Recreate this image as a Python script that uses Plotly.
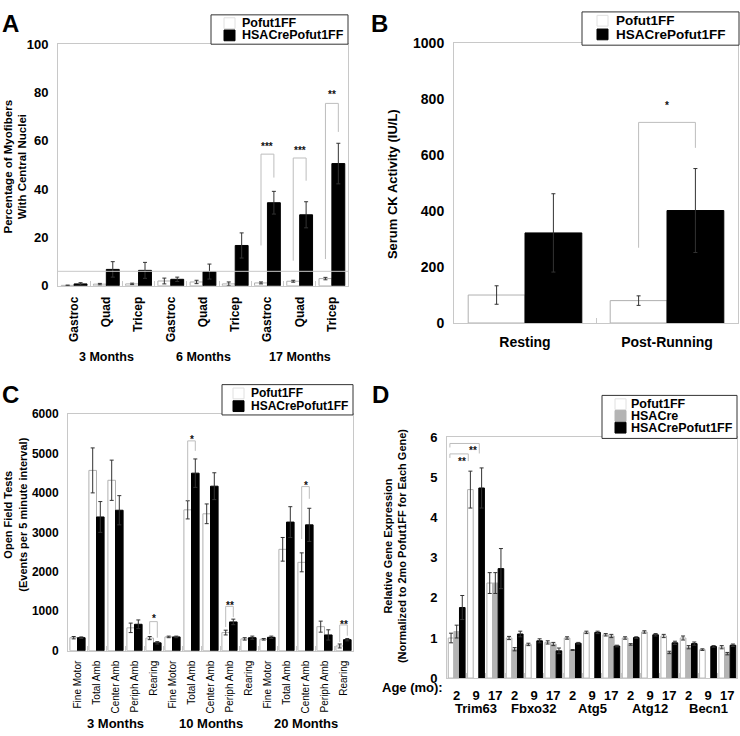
import plotly.graph_objects as go

# ---- panel A: central nuclei ----
a_muscles = ["Gastroc", "Quad", "Tricep", "Gastroc", "Quad", "Tricep", "Gastroc", "Quad", "Tricep"]
a_months = ["3 Months", "6 Months", "17 Months"]
a_ctrl = [0.2, 0.7, 0.8, 2.0, 1.6, 0.8, 1.2, 1.9, 3.0]
a_ctrl_err = [0.1, 0.3, 0.3, 1.2, 0.7, 0.8, 0.4, 0.4, 0.5]
a_ko = [0.8, 6.8, 6.4, 2.7, 5.9, 16.7, 34.4, 29.4, 50.6]
a_ko_err = [0.5, 3.2, 3.3, 0.9, 3.1, 5.2, 4.7, 5.4, 8.4]
a_ref_line = 6
# (category, left bottom, right bottom, top, star y, label)
a_sig = [(6, 16.7, 44.8, 54.5, 57.5, "***"), (7, 10.4, 43.5, 52.9, 56, "***"), (8, 11.1, 63.7, 75.5, 79, "**")]

# ---- panel B: serum CK ----
b_conditions = ["Resting", "Post-Running"]
b_ctrl = [100, 80]
b_ctrl_err = [33, 17]
b_ko = [322, 402]
b_ko_err = [140, 150]
b_sig = [(1, 269, 626, 717, 777, "*")]

# ---- panel C: open field ----
c_tests = ["Fine Motor", "Total Amb", "Center Amb", "Periph Amb", "Rearing"] * 3
c_months = ["3 Months", "10 Months", "20 Months"]
c_ctrl = [330, 4570, 4320, 580, 320, 350, 3570, 3470, 460, 300, 290, 2570, 2240, 610, 120]
c_ctrl_err = [30, 570, 510, 120, 40, 20, 230, 250, 60, 30, 20, 300, 240, 140, 50]
c_ko = [330, 3390, 3560, 670, 200, 350, 4500, 4170, 730, 330, 340, 3260, 3190, 400, 280]
c_ko_err = [20, 390, 370, 110, 30, 20, 360, 340, 70, 40, 30, 390, 420, 130, 30]
c_sig = [(4, 420, 330, 737, 805, "*"), (6, 3810, 5066, 5318, 5355, "*"), (8, 600, 850, 1124, 1140, "**"),
         (12, 2830, 3850, 4160, 4195, "*"), (14, 220, 380, 653, 675, "**")]

# ---- panel D: gene expression ----
d_genes = ["Trim63", "Fbxo32", "Atg5", "Atg12", "Becn1"]
d_ages = ["2", "9", "17"] * 5
d_ctrl = [1.0, 4.7, 2.37, 1.0, 0.84, 0.89, 1.0, 1.14, 1.08, 1.0, 1.15, 1.05, 1.0, 0.71, 0.77]
d_ctrl_err = [0.12, 0.46, 0.26, 0.04, 0.03, 0.04, 0.03, 0.03, 0.03, 0.03, 0.03, 0.04, 0.05, 0.02, 0.04]
d_cre = [1.16, None, 2.37, 0.72, None, 0.85, 0.70, None, 1.05, 0.84, None, 0.64, 0.77, None, 0.61]
d_cre_err = [0.16, 0, 0.26, 0.04, 0, 0.04, 0.01, 0, 0.04, 0.02, 0, 0.03, 0.04, 0, 0.03]
d_ko = [1.76, 4.74, 2.73, 1.10, 0.93, 0.68, 0.87, 1.14, 0.80, 1.01, 1.08, 0.88, 0.86, 0.79, 0.82]
d_ko_err = [0.30, 0.50, 0.50, 0.07, 0.05, 0.07, 0.02, 0.03, 0.02, 0.02, 0.03, 0.04, 0.04, 0.02, 0.03]

W, H = 740, 736
FONT = "Liberation Sans, Arial, sans-serif"
FRAME = "#c8c8c8"
BR = "#bdbdbd"


def px(x):
    return x / W


def py(y):
    return 1 - y / H


fig = go.Figure()


def bars(xa, ya, vals, errs, color, line, off, w):
    fig.add_trace(go.Bar(
        x=list(range(len(vals))), y=vals, xaxis=xa, yaxis=ya,
        offset=off, width=w,
        marker=dict(color=color, line=dict(color=line, width=1)),
        error_y=dict(type="data", array=errs, color="#333", thickness=1, width=2),
        showlegend=False))


bars("x", "y", a_ctrl, a_ctrl_err, "white", "#b0b0b0", -0.4, 0.4)
bars("x", "y", a_ko, a_ko_err, "black", "black", 0, 0.4)
bars("x2", "y2", b_ctrl, b_ctrl_err, "white", "#b0b0b0", -0.4, 0.4)
bars("x2", "y2", b_ko, b_ko_err, "black", "black", 0, 0.4)
bars("x3", "y3", c_ctrl, c_ctrl_err, "white", "#b0b0b0", -0.4, 0.4)
bars("x3", "y3", c_ko, c_ko_err, "black", "black", 0, 0.4)
bars("x4", "y4", d_ctrl, d_ctrl_err, "white", "#b0b0b0", -0.435, 0.29)
bars("x4", "y4", d_cre, d_cre_err, "#b4b4b4", "#b4b4b4", -0.145, 0.29)
bars("x4", "y4", d_ko, d_ko_err, "black", "black", 0.145, 0.29)


def xax(n, dom, labels, angle, size, bold, stand):
    return dict(domain=dom, range=[-0.5, n - 0.5], tickvals=list(range(n)), ticktext=labels,
                tickangle=angle, showline=True, mirror=True, linecolor=FRAME, linewidth=1,
                showgrid=False, zeroline=False, ticks="", ticklabelstandoff=stand,
                tickfont=dict(family=FONT, size=size, color="black", weight="bold" if bold else "normal"),
                minor=dict(tickmode="array", tickvals=[i + 0.5 for i in range(n - 1)], ticks="inside",
                           ticklen=5, tickcolor=FRAME))


def yax(dom, rng, dt, size, xa):
    return dict(domain=dom, range=rng, dtick=dt, anchor=xa, showline=True, mirror=True, linecolor=FRAME,
                linewidth=1, showgrid=False, zeroline=False, ticks="", ticklabelstandoff=6,
                tickfont=dict(family=FONT, size=size, color="black", weight="bold"))


fig.update_layout(
    width=W, height=H, margin=dict(l=0, r=0, t=0, b=0),
    paper_bgcolor="white", plot_bgcolor="white", barmode="overlay",
    font=dict(family=FONT, color="black"),
    xaxis=xax(len(a_muscles), [px(58), px(348)], a_muscles, -90, 12, True, 5) | dict(anchor="y"),
    yaxis=yax([py(284), py(37)], [0, 100], 20, 13, "x"),
    xaxis2=xax(len(b_conditions), [px(454), px(738)], b_conditions, 0, 14, True, 6) | dict(anchor="y2"),
    yaxis2=yax([py(322), py(36)], [0, 1000], 200, 14, "x2"),
    xaxis3=xax(len(c_tests), [px(68), px(353)], c_tests, -90, 10, False, 5) | dict(anchor="y3"),
    yaxis3=yax([py(657), py(415)], [0, 6000], 1000, 12, "x3"),
    xaxis4=xax(len(d_ages), [px(447), px(737)], d_ages, 0, 13, True, 5) | dict(anchor="y4"),
    yaxis4=yax([py(685), py(439)], [0, 6], 1, 13, "x4"),
)

shapes = []
ann = []


def note(x, y, text, size, xref="paper", yref="paper", angle=0, xanchor="center", weight="bold", color="black"):
    ann.append(dict(x=x, y=y, xref=xref, yref=yref, text=text, showarrow=False, textangle=angle,
                    xanchor=xanchor, yanchor="middle",
                    font=dict(size=size, weight=weight, color=color)))


def sig(xa, ya, items):
    for c, yl, yr, top, sy, lab in items:
        xl, xr = c - 0.2, c + 0.2
        shapes.append(dict(type="path", xref=xa, yref=ya,
                           path=f"M {xl},{yl} L {xl},{top} L {xr},{top} L {xr},{yr}",
                           line=dict(color=BR, width=1)))
        note(c, sy, lab, 10, xa, ya, color="#111")


sig("x", "y", a_sig)
sig("x2", "y2", b_sig)
sig("x3", "y3", c_sig)

# panel D brackets
for xl, xr, yr, top, sx, sy in [(-0.35, 0.6, 5.41, 5.59, 0.25, 5.39), (-0.35, 1.17, 5.6, 5.85, 0.85, 5.68)]:
    shapes.append(dict(type="path", xref="x4", yref="y4",
                       path=f"M {xl},{top - 0.1} L {xl},{top} L {xr},{top} L {xr},{yr}",
                       line=dict(color=BR, width=1)))
    note(sx, sy, "**", 10, "x4", "y4", color="#111")

shapes.append(dict(type="line", xref="x domain", yref="y", x0=0, x1=1, y0=a_ref_line, y1=a_ref_line,
                   line=dict(color=FRAME, width=1)))


def legend(box, sw_x, text_x, rows, items, size):
    x0, y0, x1, y1 = box
    shapes.append(dict(type="rect", xref="paper", yref="paper", x0=px(x0), x1=px(x1), y0=py(y1), y1=py(y0),
                       line=dict(color="#333", width=1), fillcolor="white"))
    for (lab, fill, edge), ry in zip(items, rows):
        shapes.append(dict(type="rect", xref="paper", yref="paper", x0=px(sw_x), x1=px(sw_x + 11),
                           y0=py(ry + 5.5), y1=py(ry - 5.5), line=dict(color=edge, width=1), fillcolor=fill))
        note(px(text_x), py(ry), lab, size, xanchor="left")


two = [("Pofut1FF", "white", "#e0e0e0"), ("HSACrePofut1FF", "black", "black")]
legend((211, 7, 348, 37), 224, 240, [15.5, 28], two, 12.5)
legend((582, 4, 739, 38), 597, 614, [13, 27], two, 13.5)
legend((222, 385, 353, 416), 233, 249, [394, 407], two, 12)
legend((602, 396, 737, 440), 615, 629, [405, 417, 429],
       [("Pofut1FF", "white", "#e0e0e0"), ("HSACre", "#b4b4b4", "#b4b4b4"), ("HSACrePofut1FF", "black", "black")],
       12.5)

# panel letters
for lab, x, y in [("A", 10, 16), ("B", 379, 16), ("C", 10, 395), ("D", 380, 395)]:
    note(px(x), py(y), lab, 24)

# axis titles
for txt, x, y, size in [("Percentage of Myofibers<br>With Central Nuclei", 15, 162, 11.5),
                        ("Serum CK Activity (IU/L)", 392, 180, 13),
                        ("Open Field Tests<br>(Events per 5 minute interval)", 15, 518, 11),
                        ("Relative Gene Expression<br>(Normalized to 2mo Pofut1FF for Each Gene)", 395, 550, 11)]:
    note(px(x), py(y), txt, size, angle=-90)

# group labels
for i, m in enumerate(a_months):
    note(3 * i + 1, py(357), m, 12.5, xref="x")
for i, m in enumerate(c_months):
    note(5 * i + 2, py(731), m, 13, xref="x3")
for i, g in enumerate(d_genes):
    note(3 * i + 1, py(716), g, 13, xref="x4")
note(px(412), py(695), "Age (mo):", 13)

fig.update_layout(shapes=shapes, annotations=ann)
fig.write_html("out.html", config={"displayModeBar": False},
               post_script="document.body.style.margin='0px';")
